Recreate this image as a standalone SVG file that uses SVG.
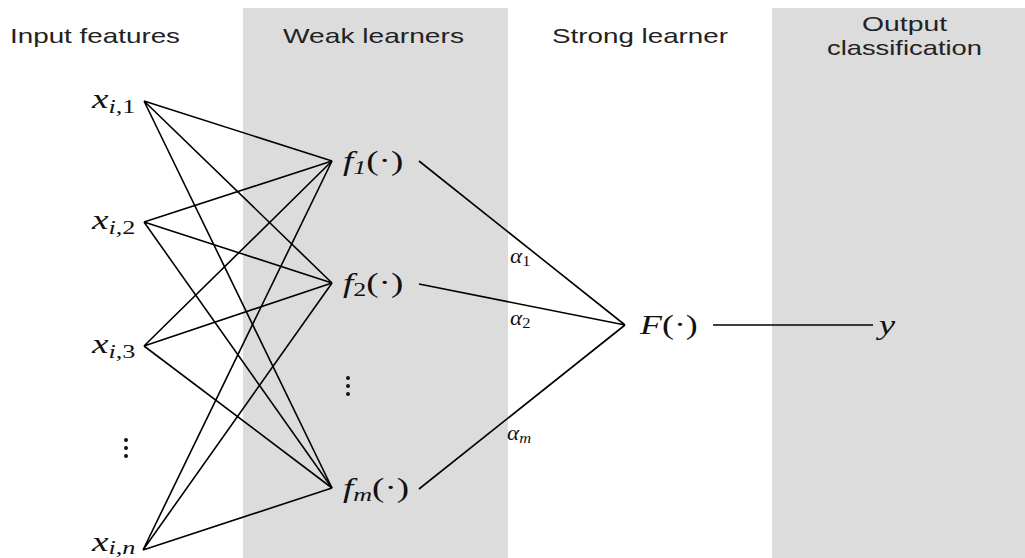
<svg xmlns="http://www.w3.org/2000/svg" width="1025" height="558" viewBox="0 0 1025 558">
<style>
.band{fill:#dcdcdc}
.hdr{font-family:"Liberation Sans",Arial,sans-serif;font-size:21px;fill:#222}
.m{font-family:"Liberation Serif","Times New Roman",serif;font-size:27px;fill:#111}
.i{font-style:italic}
.sub{font-size:19px}
.al{font-family:"Liberation Serif","Times New Roman",serif;font-size:21px;font-style:italic;fill:#111}
.ln{stroke:#000;stroke-width:1.6;fill:none}
.dot{fill:#111}
</style>
<rect width="1025" height="558" fill="#fff"/>
<rect class="band" x="243" y="8" width="265" height="550"/>
<rect class="band" x="772" y="8" width="253" height="550"/>
<g id="headers">
<text class="hdr" x="10" y="43" textLength="170" lengthAdjust="spacingAndGlyphs">Input features</text>
<text class="hdr" x="283" y="43" textLength="181" lengthAdjust="spacingAndGlyphs">Weak learners</text>
<text class="hdr" x="552" y="43" textLength="176" lengthAdjust="spacingAndGlyphs">Strong learner</text>
<text class="hdr" x="862" y="31" textLength="85" lengthAdjust="spacingAndGlyphs">Output</text>
<text class="hdr" x="827" y="55" textLength="155" lengthAdjust="spacingAndGlyphs">classification</text>
</g>
<g id="connectors">
<path class="ln" d="M144,101L332,161M144,101L332,283M144,101L332,488"/>
<path class="ln" d="M144,222L332,161M144,222L332,283M144,222L332,488"/>
<path class="ln" d="M144,346L332,161M144,346L332,283M144,346L332,488"/>
<path class="ln" d="M143,550L332,161M143,550L332,283M143,550L332,488"/>
<path class="ln" d="M419,161L625,325M419,284L625,325M419,489L625,325"/>
<path class="ln" d="M713,325L873,325"/>
</g>
<g id="x1"><text class="m" transform="translate(92,108) scale(1.38,1)"><tspan class="i">x</tspan><tspan class="sub" dy="5"><tspan class="i">i</tspan>,1</tspan></text></g>
<g id="x2"><text class="m" transform="translate(92,229) scale(1.38,1)"><tspan class="i">x</tspan><tspan class="sub" dy="5"><tspan class="i">i</tspan>,2</tspan></text></g>
<g id="x3"><text class="m" transform="translate(92,353) scale(1.38,1)"><tspan class="i">x</tspan><tspan class="sub" dy="5"><tspan class="i">i</tspan>,3</tspan></text></g>
<g id="xn"><text class="m" transform="translate(92,551) scale(1.38,1)"><tspan class="i">x</tspan><tspan class="sub" dy="3"><tspan class="i">i</tspan>,<tspan class="i">n</tspan></tspan></text></g>
<g id="dots-x"><circle class="dot" cx="126" cy="440" r="2"/><circle class="dot" cx="126" cy="448" r="2"/><circle class="dot" cx="126" cy="456" r="2"/></g>
<g id="f1"><text class="m" transform="translate(343,170) scale(1.37,1)"><tspan class="i">f</tspan><tspan class="sub i" dy="4">1</tspan><tspan dy="-4">(·)</tspan></text></g>
<g id="f2"><text class="m" transform="translate(343,292) scale(1.37,1)"><tspan class="i">f</tspan><tspan class="sub" dy="4">2</tspan><tspan dy="-4">(·)</tspan></text></g>
<g id="dots-f"><circle class="dot" cx="348" cy="378" r="2"/><circle class="dot" cx="348" cy="386" r="2"/><circle class="dot" cx="348" cy="394" r="2"/></g>
<g id="fm"><text class="m" transform="translate(343,497) scale(1.37,1)"><tspan class="i">f</tspan><tspan class="sub i" dy="4">m</tspan><tspan dy="-4">(·)</tspan></text></g>
<g id="a1"><text class="al" transform="translate(510,263) scale(1.1,1)">α<tspan font-style="normal" font-size="15" dy="3">1</tspan></text></g>
<g id="a2"><text class="al" transform="translate(510,325) scale(1.1,1)">α<tspan font-style="normal" font-size="15" dy="3">2</tspan></text></g>
<g id="am"><text class="al" transform="translate(507,440) scale(1.1,1)">α<tspan font-size="15" dy="3">m</tspan></text></g>
<g id="F"><text class="m" transform="translate(640,334) scale(1.33,1)"><tspan class="i">F</tspan>(·)</text></g>
<g id="y"><text class="m i" transform="translate(879,334) scale(1.35,1)">y</text></g>
</svg>
